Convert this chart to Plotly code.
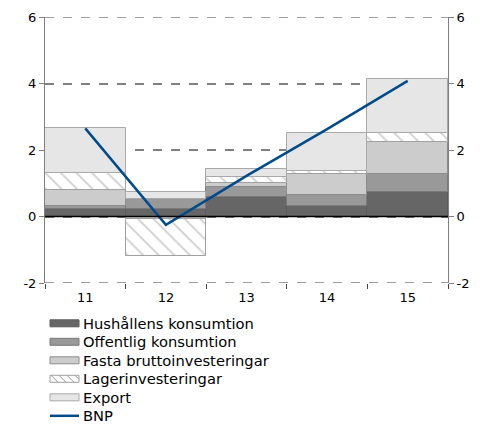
import plotly.graph_objects as go

years = ["11", "12", "13", "14", "15"]
hush = [0.24, 0.23, 0.60, 0.33, 0.73]
offentlig = [0.08, 0.31, 0.29, 0.32, 0.56]
fasta = [0.48, -0.08, 0.12, 0.62, 0.94]
lager = [0.50, -1.12, 0.18, 0.11, 0.27]
export = [1.35, 0.20, 0.25, 1.12, 1.63]
bnp = [2.65, -0.25, 1.22, 2.63, 4.08]

series_names = ["Hushållens konsumtion", "Offentlig konsumtion", "Fasta bruttoinvesteringar",
                "Lagerinvesteringar", "Export", "BNP"]
y_ticks = [-2, 0, 2, 4, 6]
y_ticktext = ["-2", "0", "2", "4", "6"]

font = "DejaVu Sans"
OFF = 8  # page body margin
W, H = 489, 425
PW, PH = 403, 266
L, T = 45 - OFF, 17 - OFF
R, B = W - L - PW, H - T - PH

def px_x(x):  # screen pixel -> paper
    return (x - OFF - L) / PW

def px_y(y):
    return (T + PH - (y - OFF)) / PH

fig = go.Figure()

styles = [
    dict(color="#666666", line="#5a5a5a"),
    dict(color="#999999", line="#7a7a7a"),
    dict(color="#cccccc", line="#8c8c8c"),
    dict(color="#ffffff", line="#a0a0a0", hatch=True),
    dict(color="#e6e6e6", line="#a8a8a8"),
]
values = [hush, offentlig, fasta, lager, export]

for name, vals, st in zip(series_names[:5], values, styles):
    m = dict(color=st["color"], line=dict(color=st["line"], width=1))
    if st.get("hatch"):
        m["pattern"] = dict(shape="\\", fgcolor="#9a9a9a", bgcolor="#ffffff", size=11, solidity=0.15)
    fig.add_trace(go.Bar(x=years, y=vals, name=name, marker=m, width=1.0, showlegend=False))

fig.add_trace(go.Scatter(x=years, y=bnp, name=series_names[5], mode="lines",
                         line=dict(color="#004b8d", width=2.5), showlegend=False))
fig.add_trace(go.Scatter(x=years, y=[None] * 5, yaxis="y2", showlegend=False, hoverinfo="skip"))

# zero line and edge gridlines
fig.add_shape(type="line", xref="paper", yref="y", x0=0, x1=1, y0=0, y1=0,
              line=dict(color="#000000", width=1.5), layer="above")
for gy in (-2, 6):
    fig.add_shape(type="line", xref="paper", yref="y", x0=0, x1=1, y0=gy, y1=gy,
                  line=dict(color="#808080", width=1.5, dash="dash"), layer="below")

# manual legend
rows = [323.3, 341.8, 360.3, 378.8, 397.3, 415.8]
sx0, sx1, tx = 50, 79, 81
for i, (name, yc) in enumerate(zip(series_names, rows)):
    if i < 5:
        st = styles[i]
        fig.add_shape(type="rect", xref="paper", yref="paper",
                      x0=px_x(sx0), x1=px_x(sx1), y0=px_y(yc + 3.5), y1=px_y(yc - 3.5),
                      fillcolor=st["color"], line=dict(color=st["line"], width=1))
        if st.get("hatch"):
            for xs in (51, 59, 67):
                fig.add_shape(type="line", xref="paper", yref="paper",
                              x0=px_x(xs), x1=px_x(xs + 7), y0=px_y(yc - 3.5), y1=px_y(yc + 3.5),
                              line=dict(color="#9a9a9a", width=1))
            fig.add_shape(type="line", xref="paper", yref="paper",
                          x0=px_x(75), x1=px_x(79), y0=px_y(yc - 3.5), y1=px_y(yc + 0.5),
                          line=dict(color="#9a9a9a", width=1))
    else:
        fig.add_shape(type="line", xref="paper", yref="paper",
                      x0=px_x(sx0), x1=px_x(sx1), y0=px_y(yc), y1=px_y(yc),
                      line=dict(color="#004b8d", width=2.5))
    fig.add_annotation(text=name, xref="paper", yref="paper", x=px_x(tx), y=px_y(yc),
                       xanchor="left", yanchor="middle", showarrow=False,
                       font=dict(family=font, size=14.7, color="#000000"))

yax = dict(range=[-2, 6], tickvals=y_ticks, ticktext=y_ticktext, showgrid=True,
           gridcolor="#808080", griddash="dash", gridwidth=1.5,
           zeroline=False, showline=True, linecolor="#808080", linewidth=1,
           ticks="outside", ticklen=5, tickcolor="#808080",
           tickfont=dict(family=font, size=13, color="#000000"))

fig.update_layout(
    width=W, height=H,
    margin=dict(l=L, r=R, t=T, b=B, autoexpand=False),
    paper_bgcolor="white", plot_bgcolor="white",
    barmode="relative", bargap=0,
    showlegend=False,
    font=dict(family=font, size=13, color="#000000"),
    xaxis=dict(type="category", tickson="boundaries", ticks="outside", ticklen=5,
               tickcolor="#444444", showline=False, showgrid=False, ticklabelstandoff=5,
               tickfont=dict(family=font, size=13, color="#000000")),
    yaxis=yax,
    yaxis2=dict(yax, overlaying="y", side="right", showgrid=False),
)

fig.write_html("out.html")
